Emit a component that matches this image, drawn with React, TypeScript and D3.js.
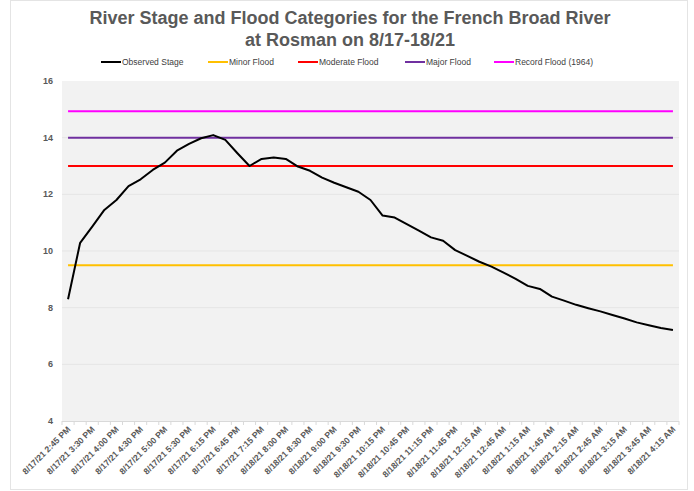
import * as d3 from 'd3';

const times: string[] = [
  '8/17/21 2:45 PM', '8/17/21 3:15 PM', '8/17/21 3:30 PM', '8/17/21 3:45 PM', '8/17/21 4:00 PM',
  '8/17/21 4:15 PM', '8/17/21 4:30 PM', '8/17/21 4:45 PM', '8/17/21 5:00 PM', '8/17/21 5:15 PM',
  '8/17/21 5:30 PM', '8/17/21 6:00 PM', '8/17/21 6:15 PM', '8/17/21 6:30 PM', '8/17/21 6:45 PM',
  '8/17/21 7:00 PM', '8/17/21 7:15 PM', '8/17/21 7:45 PM', '8/18/21 8:00 PM', '8/18/21 8:15 PM',
  '8/18/21 8:30 PM', '8/18/21 8:45 PM', '8/18/21 9:00 PM', '8/18/21 9:15 PM', '8/18/21 9:30 PM',
  '8/18/21 10:00 PM', '8/18/21 10:15 PM', '8/18/21 10:30 PM', '8/18/21 10:45 PM', '8/18/21 11:00 PM',
  '8/18/21 11:15 PM', '8/18/21 11:30 PM', '8/18/21 11:45 PM', '8/18/21 12:00 AM', '8/18/21 12:15 AM',
  '8/18/21 12:30 AM', '8/18/21 12:45 AM', '8/18/21 1:00 AM', '8/18/21 1:15 AM', '8/18/21 1:30 AM',
  '8/18/21 1:45 AM', '8/18/21 2:00 AM', '8/18/21 2:15 AM', '8/18/21 2:30 AM', '8/18/21 2:45 AM',
  '8/18/21 3:00 AM', '8/18/21 3:15 AM', '8/18/21 3:30 AM', '8/18/21 3:45 AM', '8/18/21 4:00 AM',
  '8/18/21 4:15 AM',
];

const observedStage: number[] = [
  8.3, 10.29, 10.86, 11.45, 11.8, 12.29, 12.53, 12.86, 13.12, 13.54,
  13.78, 13.98, 14.09, 13.92, 13.45, 13.0, 13.25, 13.3, 13.25, 12.98,
  12.83, 12.59, 12.41, 12.25, 12.09, 11.8, 11.25, 11.18, 10.95, 10.72,
  10.48, 10.36, 10.03, 9.83, 9.62, 9.45, 9.24, 9.02, 8.77, 8.66,
  8.39, 8.25, 8.1, 7.98, 7.87, 7.74, 7.62, 7.48, 7.38, 7.28,
  7.21,
];

const floodNames = ['Minor Flood', 'Moderate Flood', 'Major Flood', 'Record Flood (1964)'];
const floodLevels = [9.5, 13, 14, 14.93];
const floodColors = ['#ffc000', '#ff0000', '#7030a0', '#ff00ff'];

const yTicks = [4, 6, 8, 10, 12, 14, 16];

const W = 694;
const H = 491;
const plot = { left: 62, right: 679, top: 81, bottom: 421 };
const FONT = "'Liberation Sans', Arial, sans-serif";
const GREY = '#595959';

export default function App() {
  const x = d3
    .scaleBand<number>()
    .domain(times.map((_, i) => i))
    .range([plot.left, plot.right])
    .padding(0);
  const cx = (i: number) => (x(i) || 0) + x.bandwidth() / 2;
  const y = d3.scaleLinear().domain([4, 16]).range([plot.bottom, plot.top]);

  const line = d3
    .line<number>()
    .x((_, i) => cx(i))
    .y((d) => y(d));

  const legendItems = [
    { name: 'Observed Stage', color: '#000000', x: 101 },
    { name: floodNames[0], color: floodColors[0], x: 208 },
    { name: floodNames[1], color: floodColors[1], x: 298 },
    { name: floodNames[2], color: floodColors[2], x: 405 },
    { name: floodNames[3], color: floodColors[3], x: 494 },
  ];

  const edges = times.map((_, i) => x(i) || 0).concat([plot.right]);

  return (
    <div style={{ position: 'absolute', left: 0, top: 0 }}>
      <svg width={W} height={H} style={{ display: 'block', background: '#fff' }} fontFamily={FONT}>
        <rect x={10.5} y={0.5} width={677} height={489} fill="none" stroke="#e4e4e4" />

        {/* title */}
        <text x={350} y={24} textAnchor="middle" fontSize={18} fontWeight="bold" fill={GREY}>
          River Stage and Flood Categories for the French Broad River
        </text>
        <text x={350} y={46} textAnchor="middle" fontSize={18} fontWeight="bold" fill={GREY}>
          at Rosman on 8/17-18/21
        </text>

        {/* legend */}
        {legendItems.map((d) => (
          <g key={d.name}>
            <line x1={d.x} x2={d.x + 20} y1={62} y2={62} stroke={d.color} strokeWidth={2} />
            <text x={d.x + 21} y={65} fontSize={8.5} fill="#404040">
              {d.name}
            </text>
          </g>
        ))}

        {/* plot area */}
        <rect
          x={plot.left}
          y={plot.top}
          width={plot.right - plot.left}
          height={plot.bottom - plot.top}
          fill="#f2f2f2"
        />
        {yTicks.map((t) => (
          <g key={t}>
            {t > 4 && t < 16 && (
              <line x1={plot.left} x2={plot.right} y1={y(t)} y2={y(t)} stroke="#e5e5e5" strokeWidth={1} />
            )}
            <text x={53} y={y(t) + 3} textAnchor="end" fontSize={9} fontWeight="bold" fill={GREY}>
              {t}
            </text>
          </g>
        ))}

        {/* x axis */}
        <line x1={plot.left} x2={plot.right} y1={plot.bottom + 0.5} y2={plot.bottom + 0.5} stroke="#d9d9d9" />
        {edges.map((e, i) => (
          <line key={i} x1={e} x2={e} y1={plot.bottom} y2={plot.bottom + 4} stroke="#d9d9d9" />
        ))}
        {times.map((t, i) =>
          i % 2 === 0 ? (
            <text
              key={t}
              transform={`translate(${cx(i) + 3},${plot.bottom + 9}) rotate(-45)`}
              textAnchor="end"
              fontSize={8.6}
              fontWeight="bold"
              fill={GREY}
            >
              {t}
            </text>
          ) : null
        )}

        {/* flood category lines */}
        {floodLevels.map((lv, k) => (
          <path
            key={floodNames[k]}
            d={line(times.map(() => lv)) || ''}
            fill="none"
            stroke={floodColors[k]}
            strokeWidth={2}
          />
        ))}

        {/* observed stage */}
        <path d={line(observedStage) || ''} fill="none" stroke="#000" strokeWidth={2} strokeLinejoin="round" />
      </svg>
    </div>
  );
}
